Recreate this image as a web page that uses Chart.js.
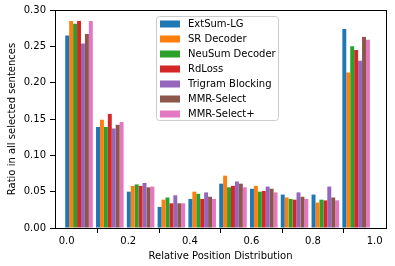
<!DOCTYPE html>
<html>
<head>
<meta charset="utf-8">
<script src="https://cdn.jsdelivr.net/npm/chart.js@4.4.1/dist/chart.umd.min.js"></script>
<style>
  html, body { margin: 0; padding: 0; background: #fff; }
  #wrap { width: 395px; height: 266px; }
</style>
</head>
<body>
<div id="wrap"><canvas id="posChart" width="395" height="266"></canvas></div>
<script>
// Relative position of selected sentences, 10 bins

const binCenters = [0.04, 0.14, 0.24, 0.34, 0.44, 0.54, 0.64, 0.74, 0.84, 0.94];

const seriesNames = ['ExtSum-LG', 'SR Decoder', 'NeuSum Decoder', 'RdLoss', 'Trigram Blocking', 'MMR-Select', 'MMR-Select+'];
const seriesColors = ['#1f77b4', '#ff7f0e', '#2ca02c', '#d62728', '#9467bd', '#8c564b', '#e377c2'];

const extSumLG      = [0.265, 0.139, 0.050, 0.029, 0.040, 0.061, 0.054, 0.046, 0.046, 0.274];
const srDecoder     = [0.285, 0.149, 0.058, 0.039, 0.050, 0.072, 0.058, 0.042, 0.035, 0.214];
const neuSumDecoder = [0.281, 0.139, 0.060, 0.042, 0.047, 0.056, 0.050, 0.040, 0.039, 0.250];
const rdLoss        = [0.285, 0.157, 0.058, 0.034, 0.040, 0.058, 0.051, 0.039, 0.038, 0.245];
const trigramBlock  = [0.254, 0.137, 0.062, 0.045, 0.049, 0.064, 0.057, 0.049, 0.057, 0.230];
const mmrSelect     = [0.267, 0.142, 0.056, 0.034, 0.043, 0.061, 0.054, 0.043, 0.042, 0.263];
const mmrSelectPlus = [0.285, 0.146, 0.057, 0.034, 0.040, 0.056, 0.049, 0.040, 0.038, 0.259];

const xTicks = [0.0, 0.2, 0.4, 0.6, 0.8, 1.0];
const yTicks = [0.00, 0.05, 0.10, 0.15, 0.20, 0.25, 0.30];

const allSeries = [extSumLG, srDecoder, neuSumDecoder, rdLoss, trigramBlock, mmrSelect, mmrSelectPlus];

const FONT = "'DejaVu Sans', sans-serif";

/**
 * Box around plot + legend inside plot area
 */
const framePlugin = {
    id: 'frame',
    afterDatasetsDraw(chart) {
        const { ctx, chartArea: a } = chart;
        ctx.save();
        ctx.strokeStyle = '#000';
        ctx.lineWidth = 1;
        ctx.strokeRect(a.left + 0.5, a.top + 0.5, a.right - a.left, a.bottom - a.top);

        // legend
        const bx = 156.5, by = 16.5, bw = 122, bh = 104;
        ctx.fillStyle = 'rgba(255,255,255,0.8)';
        ctx.strokeStyle = '#cccccc';
        ctx.beginPath();
        ctx.roundRect(bx, by, bw, bh, 3);
        ctx.fill();
        ctx.stroke();

        ctx.font = '10px ' + FONT;
        ctx.textBaseline = 'middle';
        ctx.textAlign = 'left';
        chart.data.datasets.forEach((ds, i) => {
            const cy = 24 + i * 15;
            ctx.fillStyle = ds.backgroundColor;
            ctx.fillRect(160, cy - 3.5, 20, 7);
            ctx.fillStyle = '#000';
            ctx.fillText(ds.label, 188, cy + 0.5);
        });
        ctx.restore();
    }
};

const datasets = seriesNames.map((name, i) => ({
    label: name,
    data: allSeries[i].map((v, j) => ({ x: binCenters[j], y: v })),
    backgroundColor: seriesColors[i],
    borderWidth: 0,
    categoryPercentage: 0.895,
    barPercentage: 1.0
}));

new Chart(document.getElementById('posChart'), {
    type: 'bar',
    data: { datasets },
    plugins: [framePlugin],
    options: {
        responsive: false,
        animation: false,
        devicePixelRatio: 1,
        layout: { padding: { top: 10, right: 9, left: 0, bottom: 0 } },
        plugins: {
            legend: { display: false },
            tooltip: { enabled: false }
        },
        scales: {
            x: {
                type: 'linear',
                offset: false,
                min: -0.038,
                max: 1.037,
                afterBuildTicks: axis => { axis.ticks = xTicks.map(v => ({ value: v })); },
                afterFit: axis => { axis.height = 38; },
                grid: { drawOnChartArea: false, drawTicks: true, tickLength: 5, color: '#000' },
                border: { display: true, color: '#000' },
                ticks: {
                    color: '#000',
                    font: { family: FONT, size: 10 },
                    padding: 2,
                    maxRotation: 0,
                    callback: v => v.toFixed(1)
                },
                title: {
                    display: true,
                    text: 'Relative Position Distribution',
                    color: '#000',
                    font: { family: FONT, size: 10 },
                    padding: { top: 0, bottom: 4 }
                }
            },
            y: {
                min: 0,
                max: 0.30,
                afterBuildTicks: axis => { axis.ticks = yTicks.map(v => ({ value: v })); },
                afterFit: axis => { axis.width = 55; },
                grid: { drawOnChartArea: false, drawTicks: true, tickLength: 5, color: '#000' },
                border: { display: true, color: '#000' },
                ticks: {
                    color: '#000',
                    font: { family: FONT, size: 10 },
                    padding: 4,
                    callback: v => v.toFixed(2)
                },
                title: {
                    display: true,
                    text: 'Ratio in all selected sentences',
                    color: '#000',
                    font: { family: FONT, size: 10 },
                    padding: { top: 6, bottom: 0 }
                }
            }
        }
    }
});
</script>
</body>
</html>
